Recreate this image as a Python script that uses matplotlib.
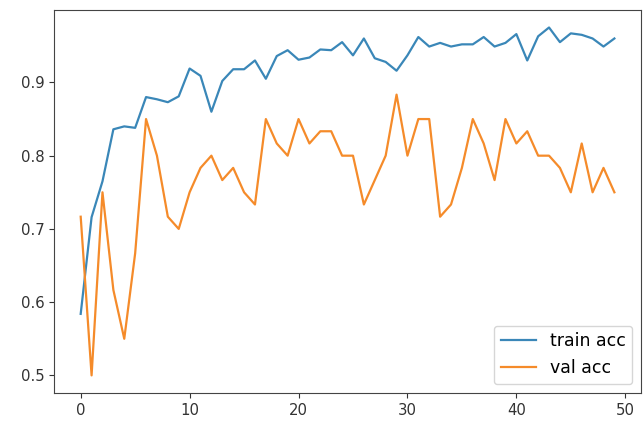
import numpy as np
import matplotlib.pyplot as plt

# accuracy per epoch
epochs = np.arange(50)
train_acc = [0.584, 0.716, 0.765, 0.836, 0.840, 0.838, 0.880, 0.877, 0.873, 0.881,
             0.919, 0.909, 0.860, 0.902, 0.918, 0.918, 0.930, 0.905, 0.936, 0.944,
             0.931, 0.934, 0.945, 0.944, 0.955, 0.937, 0.960, 0.933, 0.928, 0.916,
             0.937, 0.962, 0.949, 0.954, 0.949, 0.952, 0.952, 0.962, 0.949, 0.954,
             0.966, 0.930, 0.963, 0.975, 0.955, 0.967, 0.965, 0.960, 0.949, 0.960]
val_correct = [43, 30, 45, 37, 33, 40, 51, 48, 43, 42,
               45, 47, 48, 46, 47, 45, 44, 51, 49, 48,
               51, 49, 50, 50, 48, 48, 44, 46, 48, 53,
               48, 51, 51, 43, 44, 47, 51, 49, 46, 51,
               49, 50, 48, 48, 47, 45, 49, 45, 47, 45]
val_acc = [c / 60 for c in val_correct]

plt.rcParams['font.size'] = 10.7
fig = plt.figure(figsize=(6.43, 4.21), dpi=100)
ax = fig.add_axes([0.084, 0.067, 0.913, 0.909])
ax.plot(epochs, train_acc, label='train acc', linewidth=1.6, color='#3a87b8')
ax.plot(epochs, val_acc, label='val acc', linewidth=1.6, color='#f58b2a')
ax.legend(loc='lower right', fontsize=12.5)
for s in ax.spines.values():
    s.set_color('#444444')
ax.tick_params(colors='#333333')

fig.savefig('out.png')
